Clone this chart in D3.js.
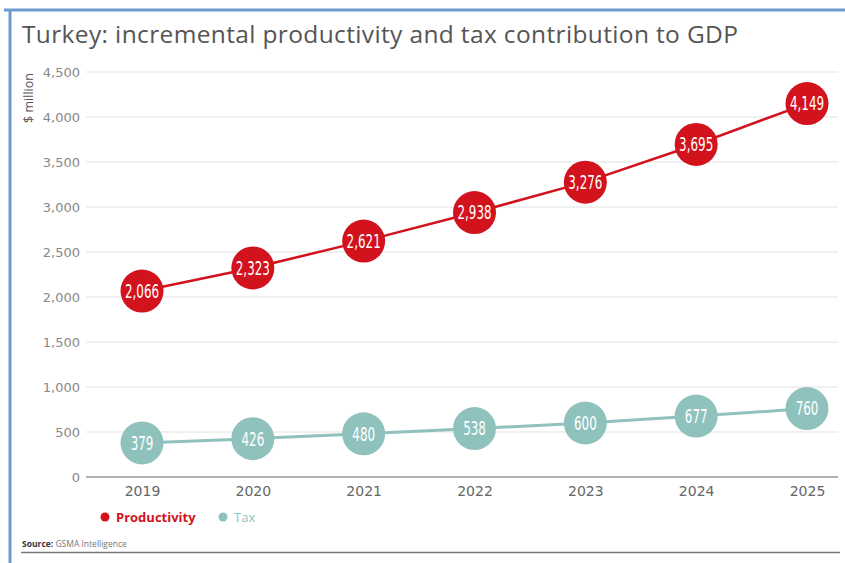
<!DOCTYPE html>
<html>
<head>
<meta charset="utf-8">
<script src="https://cdn.jsdelivr.net/npm/d3@7"></script>
<style>
  body { margin: 0; background: #fff; }
  svg { display: block; font-family: "Open Sans", "DejaVu Sans", sans-serif; }
</style>
</head>
<body>
<div id="chart"></div>
<script>
// Data
const years = ['2019', '2020', '2021', '2022', '2023', '2024', '2025'];
const productivity = [2066, 2323, 2621, 2938, 3276, 3695, 4149];
const tax = [379, 426, 480, 538, 600, 677, 760];
const yTicks = [0, 500, 1000, 1500, 2000, 2500, 3000, 3500, 4000, 4500];

// Dimensions
const WIDTH = 845;
const HEIGHT = 563;
const MARGIN = { TOP: 72, BOTTOM: 86, LEFT: 86, RIGHT: 7 };

const RED = '#d2121c';
const TEAL = '#8fc2bd';

const svg = d3
  .select('#chart')
  .append('svg')
  .attr('width', WIDTH)
  .attr('height', HEIGHT);

// Frame
svg.append('line')
  .attr('x1', 4).attr('x2', WIDTH).attr('y1', 10).attr('y2', 10)
  .attr('stroke', '#6b9bd1').attr('stroke-width', 3);
svg.append('line')
  .attr('x1', 10).attr('x2', 10).attr('y1', 9).attr('y2', HEIGHT)
  .attr('stroke', '#6b9bd1').attr('stroke-width', 3);

// Title
svg.append('text')
  .attr('x', 22).attr('y', 43)
  .attr('font-size', 24.5)
  .attr('fill', '#555')
  .attr('textLength', 716)
  .attr('lengthAdjust', 'spacing')
  .text('Turkey: incremental productivity and tax contribution to GDP');

const innerW = WIDTH - MARGIN.LEFT - MARGIN.RIGHT;
const innerH = HEIGHT - MARGIN.TOP - MARGIN.BOTTOM;

const g = svg.append('g')
  .attr('transform', `translate(${MARGIN.LEFT}, ${MARGIN.TOP})`);

// Scales
const x = d3.scalePoint().domain(years).range([56, 721]);
const y = d3.scaleLinear().domain([0, 4500]).range([innerH, 0]);

// Gridlines
g.selectAll('.grid')
  .data(yTicks)
  .enter()
  .append('line')
  .attr('x1', 0).attr('x2', innerW)
  .attr('y1', (d) => y(d)).attr('y2', (d) => y(d))
  .attr('stroke', (d) => (d === 0 ? '#999' : '#e2e2e2'))
  .attr('stroke-width', (d) => (d === 0 ? 1.5 : 1.2));

// Y axis labels
const yAxis = d3.axisLeft(y).tickValues(yTicks).tickSize(0).tickPadding(6)
  .tickFormat(d3.format(','));
const yG = g.append('g').call(yAxis);
yG.select('.domain').remove();
yG.selectAll('text')
  .attr('font-size', 13)
  .attr('fill', '#888')
  .attr('font-family', '"DejaVu Sans", sans-serif');

// Y axis title
svg.append('text')
  .attr('transform', 'translate(33, 98) rotate(-90)')
  .attr('text-anchor', 'middle')
  .attr('font-size', 12.5)
  .attr('fill', '#555')
  .text('$ million');

// X axis labels
const xAxis = d3.axisBottom(x).tickSize(0).tickPadding(9);
const xG = g.append('g').attr('transform', `translate(0, ${innerH})`).call(xAxis);
xG.select('.domain').remove();
xG.selectAll('text')
  .attr('font-size', 14)
  .attr('fill', '#666')
  .attr('font-family', '"DejaVu Sans", sans-serif');

// Lines and markers
const series = [
  { name: 'Productivity', values: productivity, color: RED, width: 2.5 },
  { name: 'Tax', values: tax, color: TEAL, width: 3 },
];

series.forEach((s) => {
  const pts = s.values.map((v, i) => ({ year: years[i], value: v }));
  const line = d3.line().x((d) => x(d.year)).y((d) => y(d.value));
  g.append('path')
    .datum(pts)
    .attr('d', line)
    .attr('fill', 'none')
    .attr('stroke', s.color)
    .attr('stroke-width', s.width);

  const nodes = g.selectAll(`.node-${s.name}`)
    .data(pts)
    .enter()
    .append('g')
    .attr('transform', (d) => `translate(${x(d.year)}, ${y(d.value)})`);
  nodes.append('circle')
    .attr('r', 21.5)
    .attr('fill', s.color);
  nodes.append('text')
    .attr('text-anchor', 'middle')
    .attr('dy', '0.36em')
    .attr('font-family', '"Liberation Sans Narrow", "DejaVu Sans Condensed", sans-serif')
    .attr('font-size', 17)
    .attr('fill', '#fff')
    .attr('transform', 'scale(0.78, 1.12)')
    .text((d) => d3.format(',')(d.value));
});

// Legend
const legend = svg.append('g').attr('transform', 'translate(105, 517)');
legend.append('circle').attr('cx', 0).attr('cy', 0).attr('r', 4.5).attr('fill', RED);
legend.append('text')
  .attr('x', 11).attr('y', 4.5)
  .attr('font-size', 13).attr('font-weight', 'bold').attr('fill', RED)
  .text('Productivity');
legend.append('circle').attr('cx', 118).attr('cy', 0).attr('r', 4.5).attr('fill', TEAL);
legend.append('text')
  .attr('x', 129).attr('y', 4.5)
  .attr('font-size', 13).attr('fill', TEAL)
  .text('Tax');

// Source
const src = svg.append('text')
  .attr('x', 22).attr('y', 547)
  .attr('font-size', 8.5)
  .attr('fill', '#777');
src.append('tspan').attr('font-weight', 'bold').attr('fill', '#333').text('Source: ');
src.append('tspan').text('GSMA Intelligence');

svg.append('line')
  .attr('x1', 21).attr('x2', 840).attr('y1', 552.5).attr('y2', 552.5)
  .attr('stroke', '#777').attr('stroke-width', 1.5);
</script>
</body>
</html>
